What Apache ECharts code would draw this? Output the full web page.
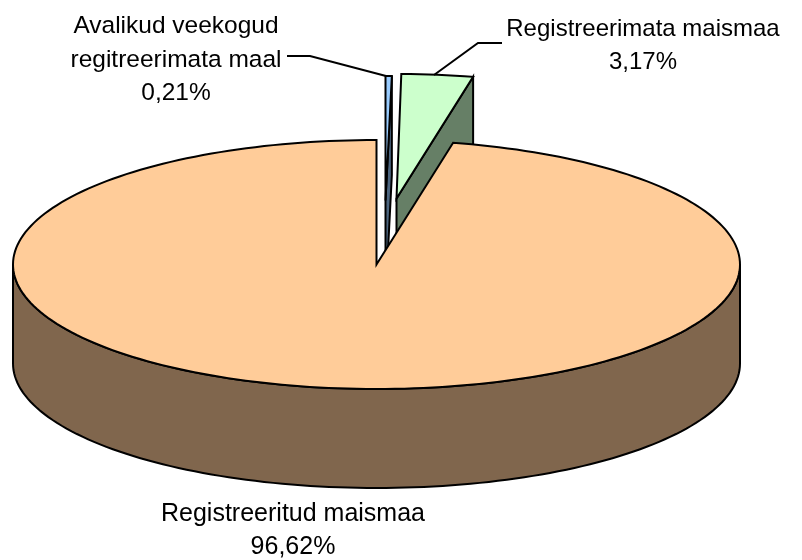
<!DOCTYPE html>
<html>
<head>
<meta charset="utf-8">
<style>html,body{margin:0;padding:0;background:#fff}#main{width:802px;height:560px}</style>
<script src="https://cdn.jsdelivr.net/npm/echarts@6/dist/echarts.min.js"></script>
</head>
<body>
<div id="main"></div>
<script>
// clockwise from 12 o'clock
let categories = ["Avalikud veekogud\nregitreerimata maal", "Registreerimata maismaa", "Registreeritud maismaa"];
let values = [0.21, 3.17, 96.62];

let topColors = ["#99CCFF", "#CCFFCC", "#FFCC99"];
let sideColors = ["#4D6680", "#667F66", "#80664D"];
let explode = [[9, -64], [20, -66], [0, 0]];
let drawOrder = [1, 0, 2];
let labelPos = [[176, 60], [643, 46], [293, 530.5]];
let labelSize = [24.5, 24, 25];
let leaders = [
    [[287, 56], [310, 56], [386, 76]],
    [[502, 43], [478, 43], [434, 75]],
    [],
];

let cx = 376.5, cy = 264.5, rx = 363.5, ry = 124.5, depth = 99;
let minSweep = 1; // thinnest slice is still drawn a few px wide
let total = values.reduce((a, b) => a + b, 0);

function pt(deg, ox, oy, dy) {
    let r = deg * Math.PI / 180;
    return [cx + ox + rx * Math.sin(r), cy + oy - ry * Math.cos(r) + dy];
}

function arc(a0, a1, ox, oy, dy) {
    let pts = [];
    let n = Math.max(2, Math.ceil((a1 - a0) / 1.5));
    for (let i = 0; i <= n; i++) pts.push(pt(a0 + (a1 - a0) * i / n, ox, oy, dy));
    return pts;
}

function poly(points, fill) {
    return {
        type: "polygon",
        shape: { points: points },
        style: { fill: fill, stroke: "#000", lineWidth: 2, lineJoin: "miter" },
    };
}

function renderSlice(params, api) {
    let idx = api.value(0);
    let start = 0;
    for (let i = 0; i < idx; i++) start += values[i];
    let a0 = start / total * 360;
    let a1 = Math.max((start + api.value(1)) / total * 360, a0 + minSweep);
    let ox = explode[idx][0], oy = explode[idx][1];
    let apex = [cx + ox, cy + oy];
    let kids = [];

    if (idx === 2) {
        // round wall, only the front half shows
        let front = arc(90, 270, ox, oy, 0);
        let back = arc(90, 270, ox, oy, depth).reverse();
        kids.push(poly(front.concat(back), sideColors[idx]));
    } else {
        // cut wall seen through the gap
        let corner = pt(a1, ox, oy, 0);
        kids.push(poly([apex, corner, [corner[0], corner[1] + depth], [apex[0], apex[1] + depth]], sideColors[idx]));
    }
    kids.push(poly([apex].concat(arc(a0, a1, ox, oy, 0)), topColors[idx]));

    return { type: "group", children: kids };
}

function renderLabels(params, api) {
    let idx = api.value(0);
    let kids = [];
    if (leaders[idx].length) {
        kids.push({
            type: "polyline",
            shape: { points: leaders[idx] },
            style: { fill: null, stroke: "#000", lineWidth: 2 },
        });
    }
    kids.push({
        type: "text",
        x: labelPos[idx][0],
        y: labelPos[idx][1],
        style: {
            text: categories[idx] + "\n" + values[idx].toFixed(2).replace(".", ",") + "%",
            fill: "#000",
            font: labelSize[idx] + 'px "Liberation Sans"',
            lineHeight: 33.5,
            align: "center",
            verticalAlign: "middle",
        },
    });
    return { type: "group", children: kids };
}

let sliceData = drawOrder.map((i) => [i, values[i]]);
let labelData = values.map((v, i) => [i, v]);

let myChart = echarts.init(document.getElementById("main"), null, { renderer: "canvas" });
let option = {
    animation: false,
    backgroundColor: "#fff",
    series: [
        { type: "custom", coordinateSystem: "none", silent: true, z: 2, renderItem: renderSlice, data: sliceData },
        { type: "custom", coordinateSystem: "none", silent: true, z: 3, renderItem: renderLabels, data: labelData },
    ],
};
myChart.setOption(option);
window.addEventListener("resize", myChart.resize);
</script>
</body>
</html>
